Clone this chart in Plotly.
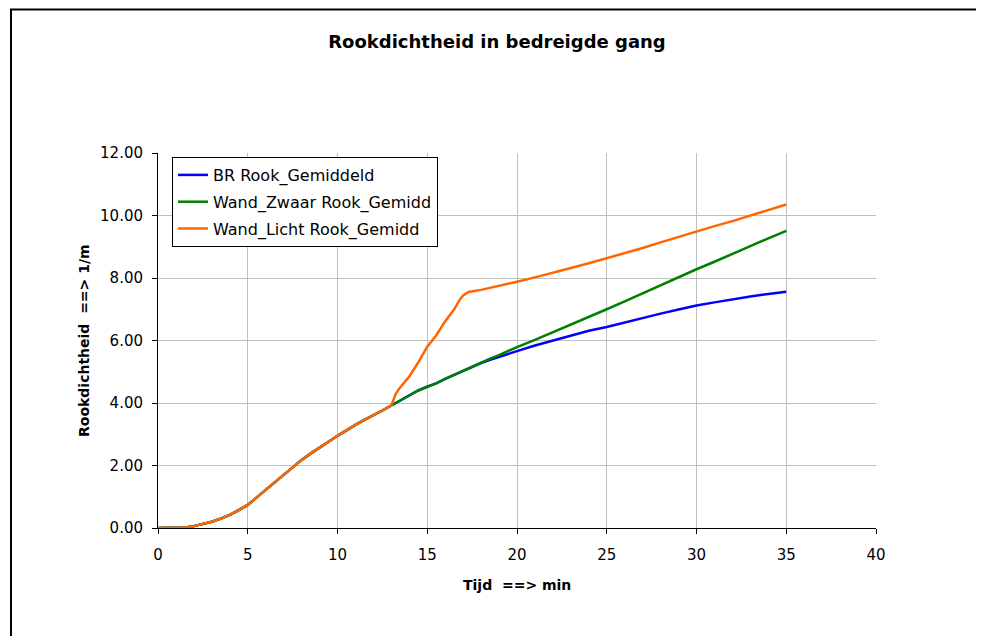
import plotly.graph_objects as go

# ---- data ----
t_br = [0, 1, 1.5, 2, 2.5, 3, 3.5, 4, 4.5, 5, 5.5, 6, 6.5, 7, 7.5, 8, 8.5, 9, 9.5, 10,
        10.5, 11, 11.5, 12, 12.5, 13, 13.5, 14, 14.5, 15, 15.5, 16, 16.5, 17, 17.5, 18,
        18.5, 19, 19.5, 20, 21, 22, 23, 24, 25, 26, 27, 28, 29, 30, 31, 32, 33, 34, 35]
v_br = [0, 0, 0.02, 0.06, 0.12, 0.2, 0.3, 0.42, 0.57, 0.74, 0.98, 1.22, 1.47, 1.72, 1.96, 2.18,
        2.38, 2.58, 2.76, 2.95, 3.13, 3.3, 3.46, 3.6, 3.76, 3.92, 4.08, 4.24, 4.4, 4.52, 4.63,
        4.77, 4.9, 5.04, 5.17, 5.28, 5.38, 5.48, 5.57, 5.66, 5.84, 6.0, 6.17, 6.31, 6.43, 6.58,
        6.72, 6.86, 6.99, 7.12, 7.22, 7.32, 7.41, 7.49, 7.56]

t_zwaar = [0, 1, 1.5, 2, 2.5, 3, 3.5, 4, 4.5, 5, 5.5, 6, 6.5, 7, 7.5, 8, 8.5, 9, 9.5, 10,
           10.5, 11, 11.5, 12, 12.5, 13, 13.5, 14, 14.5, 15, 15.5, 16, 16.5, 17, 17.5, 18,
           18.5, 19, 19.5, 20, 21, 22, 23, 24, 25, 26, 27, 28, 29, 30, 31, 32, 33, 34, 35]
v_zwaar = [0, 0, 0.02, 0.06, 0.12, 0.2, 0.3, 0.42, 0.57, 0.74, 0.98, 1.22, 1.47, 1.72, 1.96, 2.18,
           2.38, 2.58, 2.76, 2.95, 3.13, 3.3, 3.46, 3.6, 3.76, 3.92, 4.08, 4.24, 4.4, 4.52, 4.63,
           4.77, 4.9, 5.04, 5.17, 5.3, 5.42, 5.53, 5.66, 5.79, 6.02, 6.26, 6.5, 6.75, 7.0, 7.25,
           7.51, 7.76, 8.02, 8.28, 8.52, 8.78, 9.02, 9.27, 9.51]

t_licht = [0, 1, 1.5, 2, 2.5, 3, 3.5, 4, 4.5, 5, 5.5, 6, 6.5, 7, 7.5, 8, 8.5, 9, 9.5, 10,
           10.5, 11, 11.5, 12, 12.5, 13, 13.25, 13.5, 14, 14.5, 15, 15.5, 16, 16.5, 16.8, 17,
           17.3, 18, 18.5, 19, 19.5, 20, 21, 22, 23, 24, 25, 26, 27, 28, 29, 30, 31, 32, 33, 34, 35]
v_licht = [0, 0, 0.02, 0.06, 0.12, 0.2, 0.3, 0.42, 0.57, 0.74, 0.98, 1.22, 1.47, 1.72, 1.96, 2.18,
           2.38, 2.58, 2.76, 2.95, 3.13, 3.3, 3.46, 3.6, 3.76, 3.92, 4.3, 4.5, 4.85, 5.3, 5.8,
           6.16, 6.62, 7.0, 7.3, 7.44, 7.55, 7.62, 7.68, 7.74, 7.8, 7.88, 8.02, 8.18, 8.32, 8.47,
           8.63, 8.8, 8.96, 9.14, 9.32, 9.49, 9.66, 9.82, 10.0, 10.18, 10.35]

series_names = ["BR Rook_Gemiddeld", "Wand_Zwaar Rook_Gemidd", "Wand_Licht Rook_Gemidd"]
series_colors = ["#0000FF", "#008000", "#FF6600"]

title_text = "Rookdichtheid in bedreigde gang"
x_title = "Tijd \u00a0==> min"
y_title = "Rookdichtheid \u00a0==> 1/m"

FONT = "DejaVu Sans, Arial, sans-serif"

fig = go.Figure()
for name, color, tx, vy in zip(series_names, series_colors,
                               [t_br, t_zwaar, t_licht], [v_br, v_zwaar, v_licht]):
    fig.add_trace(go.Scatter(x=tx, y=vy, mode="lines", name=name, legendgroup=name,
                             line=dict(color=color, width=2.5)))

OFF = 8  # page body margin
W, H = 984 - 2 * OFF, 644 - 2 * OFF
# plot area in page pixels: x 158..876, y 153..528
PX0, PX1, PY0, PY1 = 158, 876, 153, 528
L, T = PX0 - OFF, PY0 - OFF
R = W - L - (PX1 - PX0)
B = H - T - (PY1 - PY0)
pw, ph = PX1 - PX0, PY1 - PY0

def px_x(p):
    return (p - PX0) / pw

def px_y(p):
    return (PY1 - p) / ph

fig.update_layout(
    width=W, height=H,
    margin=dict(l=L, r=R, t=T, b=B, autoexpand=False),
    paper_bgcolor="white", plot_bgcolor="white",
    font=dict(family=FONT, color="black"),
    title=dict(text="<b>" + title_text + "</b>", x=(497 - OFF) / W, xanchor="center",
               y=1 - (42 - OFF) / H, yanchor="middle", font=dict(size=18, family=FONT)),
    showlegend=True,
    legend=dict(x=px_x(172), y=px_y(157), xanchor="left", yanchor="top",
                bgcolor="white", bordercolor="black", borderwidth=1,
                font=dict(size=16, family=FONT), traceorder="grouped",
                tracegroupgap=3),
    xaxis=dict(range=[0, 40], dtick=5, tick0=0, showgrid=True, gridcolor="#c0c0c0",
               gridwidth=1, zeroline=False, showline=True, linecolor="black", linewidth=1,
               ticks="outside", ticklen=5, tickcolor="black", ticklabelstandoff=8,
               tickfont=dict(size=15, family=FONT)),
    yaxis=dict(range=[0, 12], dtick=2, tick0=0, tickformat=".2f", showgrid=True,
               gridcolor="#c0c0c0", gridwidth=1, zeroline=False, showline=True,
               linecolor="black", linewidth=1, ticks="outside", ticklen=5,
               tickcolor="black", ticklabelstandoff=6, tickfont=dict(size=15, family=FONT)),
    annotations=[
        dict(text="<b>" + x_title + "</b>", xref="paper", yref="paper", x=0.5,
             y=px_y(585), xanchor="center", yanchor="middle", showarrow=False,
             font=dict(size=14, family=FONT)),
        dict(text="<b>" + y_title + "</b>", xref="paper", yref="paper", x=px_x(83.5),
             y=0.5, xanchor="center", yanchor="middle", showarrow=False, textangle=-90,
             font=dict(size=14, family=FONT)),
    ],
    shapes=[
        dict(type="rect", xref="paper", yref="paper", x0=px_x(11), x1=px_x(1005),
             y0=px_y(665), y1=px_y(9.5), line=dict(color="black", width=2),
             fillcolor="rgba(0,0,0,0)", layer="below"),
    ],
)

fig.write_html("out.html")
